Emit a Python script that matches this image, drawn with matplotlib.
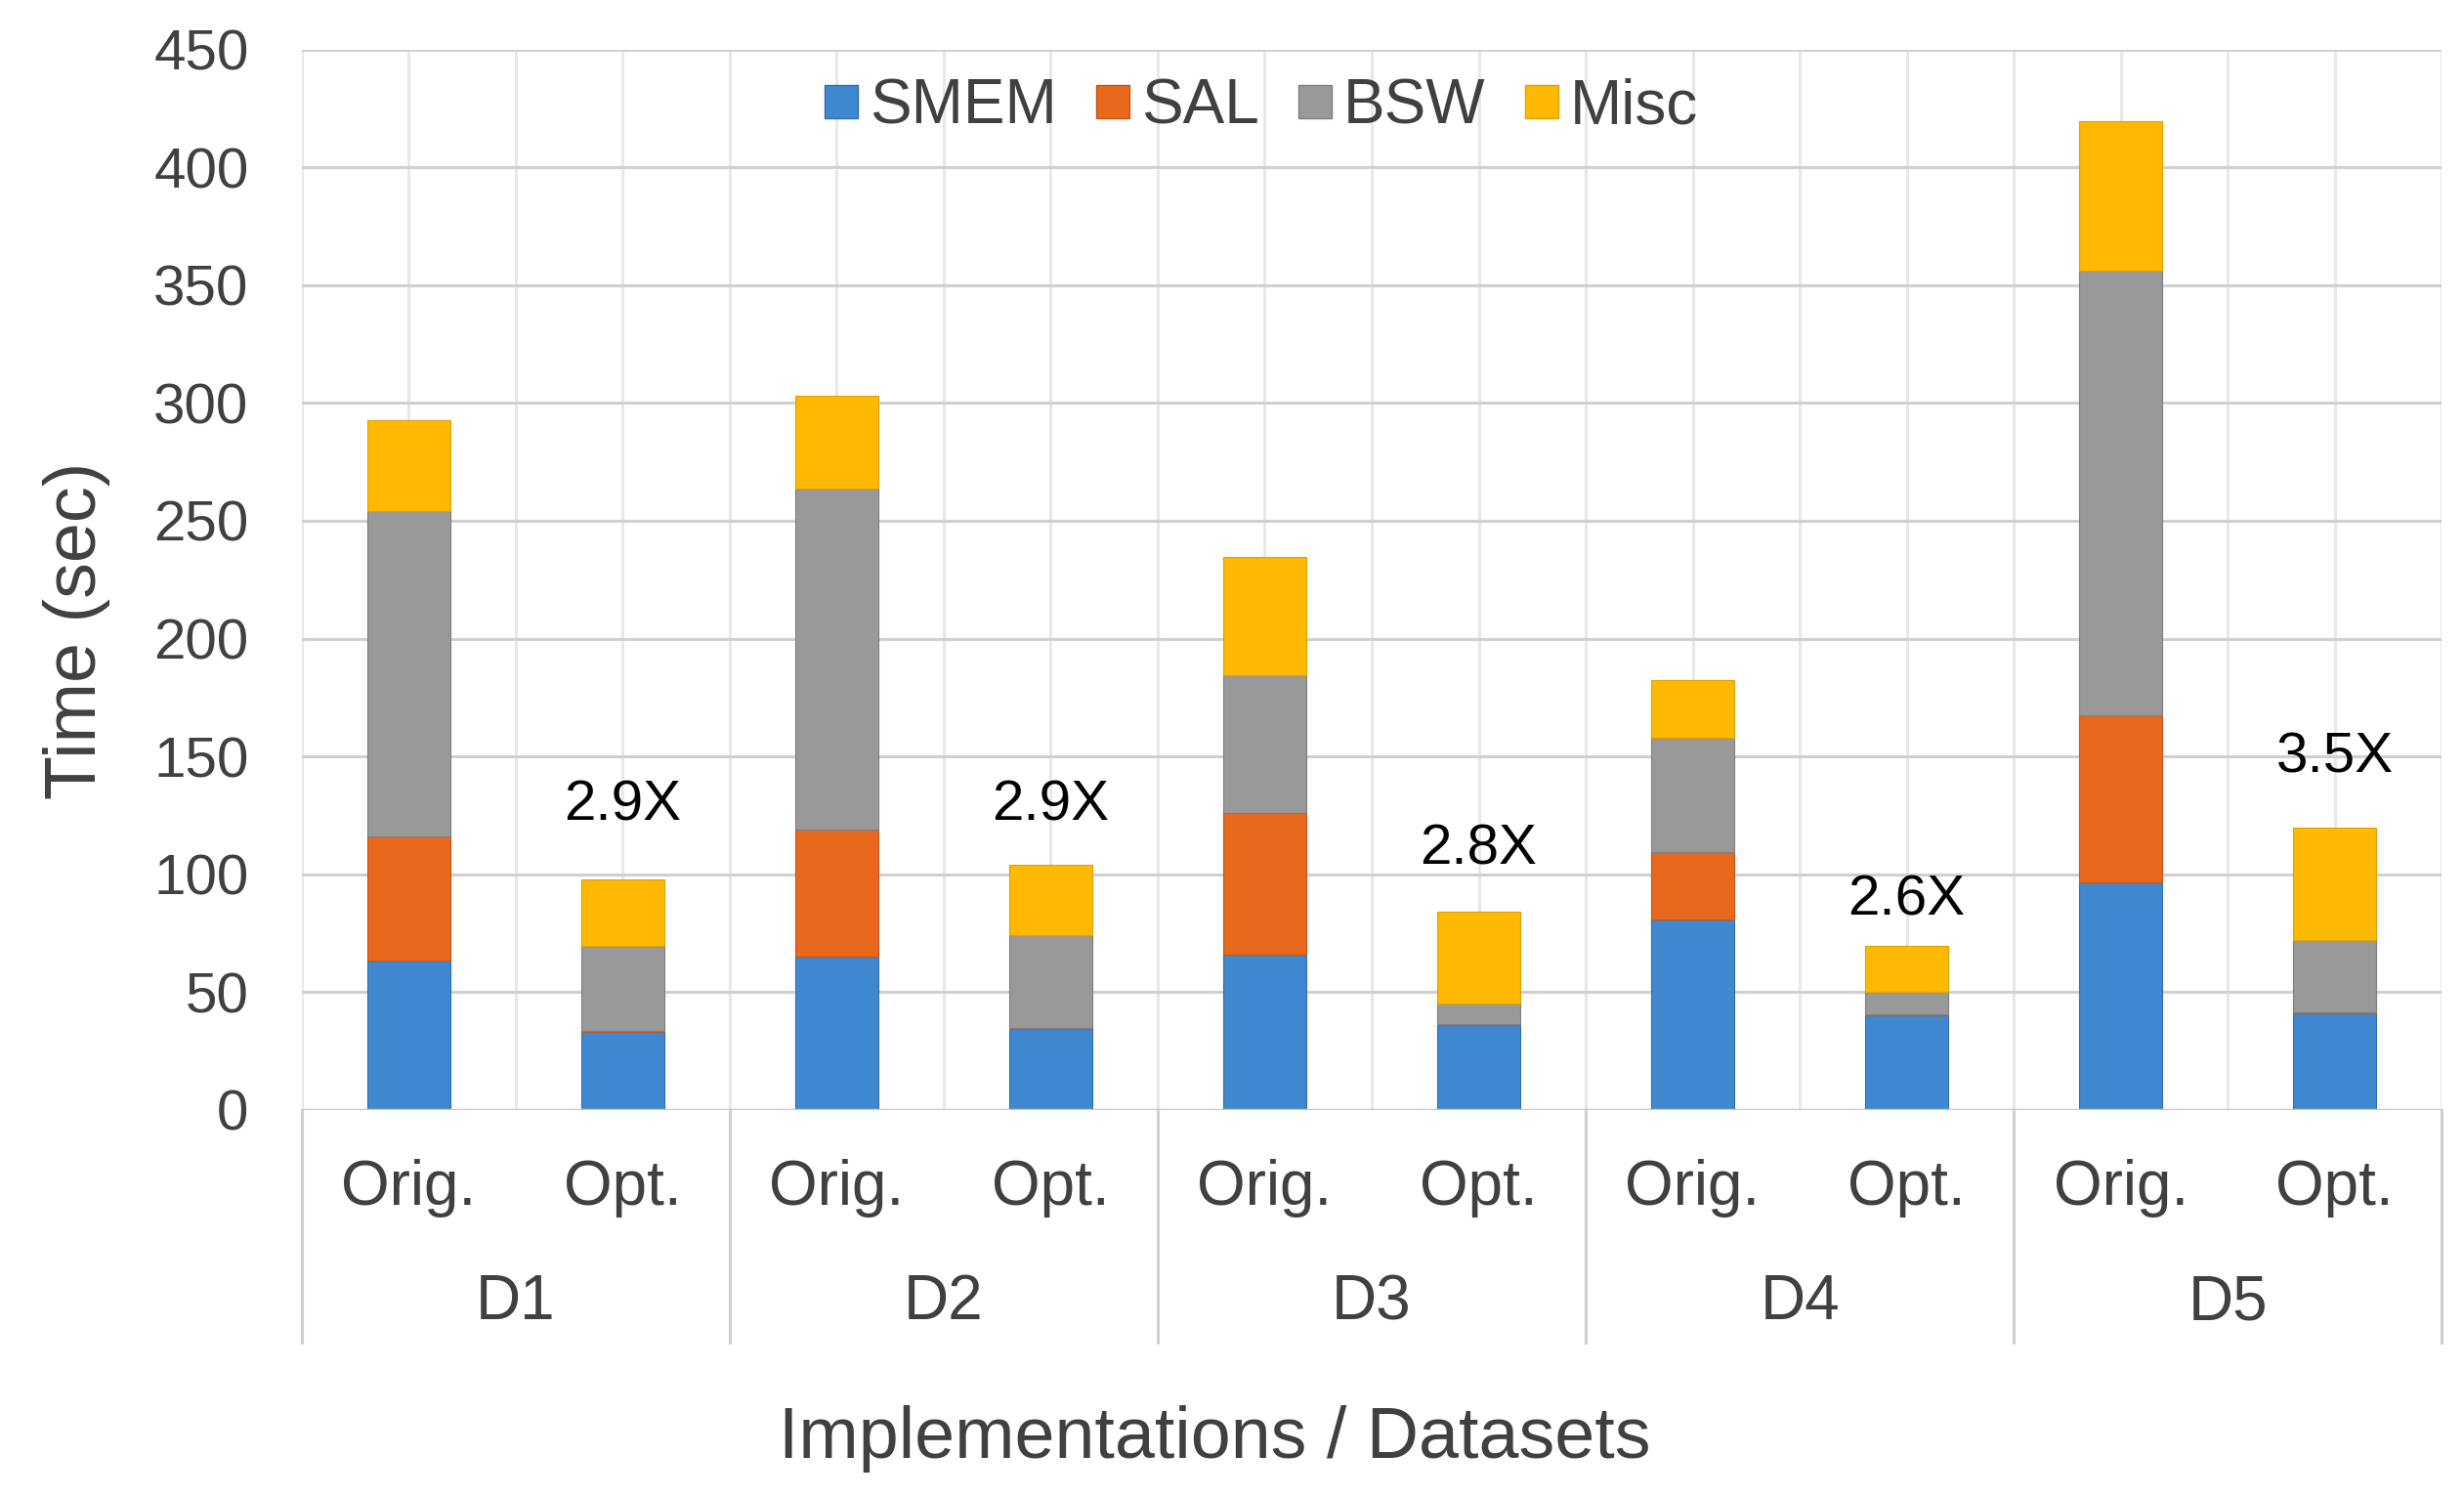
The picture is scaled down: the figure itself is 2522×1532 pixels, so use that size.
import numpy as np
import matplotlib.pyplot as plt
import matplotlib.transforms as mtransforms
from matplotlib.lines import Line2D

plt.rcParams['font.family'] = ['Liberation Sans', 'DejaVu Sans']

datasets = ['D1', 'D2', 'D3', 'D4', 'D5']
impls = ['Orig.', 'Opt.']
parts = ['SMEM', 'SAL', 'BSW', 'Misc']
colors = ['#3F88CF', '#E8691B', '#999999', '#FFB900']
edges = ['#2F6FAE', '#C5561A', '#7F7F7F', '#E0A200']

# bars in order D1 Orig, D1 Opt, D2 Orig, ...
smem = [63.5, 33.0, 65.0, 34.5, 66.0, 36.0, 81.0, 40.0, 96.6, 41.0]
sal  = [52.5, 0.5, 54.0, 0.5, 60.0, 0.5, 28.5, 0.5, 71.0, 0.5]
bsw  = [138.0, 36.1, 144.5, 39.0, 58.5, 8.5, 48.5, 9.5, 188.4, 30.5]
misc = [38.6, 28.4, 39.5, 30.0, 50.0, 39.0, 24.5, 19.6, 63.6, 48.0]
speedup = ['2.9X', '2.9X', '2.8X', '2.6X', '3.5X']
# hand-placed label heights (in sec), as in the original chart
speedup_y = [129, 129, 110.5, 89, 149.5]

fig = plt.figure(figsize=(25.22, 15.32), dpi=100)
ax = fig.add_axes([0.1224, 0.2585, 0.8686, 0.7085])

x = np.arange(len(smem))
bottom = np.zeros(len(smem))
for vals, c, e in zip([smem, sal, bsw, misc], colors, edges):
    ax.bar(x, vals, 0.39, bottom=bottom, color=c, edgecolor=e, linewidth=0.8, zorder=3)
    bottom += np.array(vals)

# speedup labels over Opt. bars
for i, (s, yv) in enumerate(zip(speedup, speedup_y)):
    ax.text(2 * i + 1, yv, s, ha='center', va='center', fontsize=42, color='black')

ax.set_xlim(-0.5, 9.5)
ax.set_ylim(0, 450)
ax.set_yticks(np.arange(0, 451, 50))
ax.tick_params(axis='y', length=0, pad=39, labelsize=42, labelcolor='#404040')
ax.set_xticks([])
for sp in ax.spines.values():
    sp.set_visible(False)

# grid
for yv in np.arange(50, 451, 50):
    ax.axhline(yv, color='#D0D0D0', lw=2.2, zorder=1)
for xv in np.arange(-0.5, 9.6, 0.5):
    ax.axvline(xv, color='#E8E8E8', lw=2.2, zorder=0.5)
ax.axhline(0, color='#C8C8C8', lw=2.5, zorder=4)

# category axis below
trans = mtransforms.blended_transform_factory(ax.transData, ax.transAxes)
for i in x:
    ax.text(i, -0.0736, impls[i % 2], transform=trans, ha='center', va='center',
            fontsize=46, color='#404040')
for j, d in enumerate(datasets):
    ax.text(2 * j + 0.5, -0.1817, d, transform=trans, ha='center', va='center',
            fontsize=46, color='#404040')
for xv in np.arange(-0.5, 9.6, 2):
    ax.plot([xv, xv], [0, -0.219], transform=trans, color='#D0D0D0', lw=2.2, clip_on=False)

fig.text(0.493, 0.039, 'Implementations / Datasets', ha='center', va='center',
         fontsize=53, color='#404040')
fig.text(0.031, 0.579, 'Time (sec)', ha='center', va='center', rotation=90,
         fontsize=53, color='#404040')

handles = [Line2D([], [], ls='none', marker='s', markersize=24, markerfacecolor=c,
                  markeredgecolor=e, markeredgewidth=1) for c, e in zip(colors, edges)]
leg = ax.legend(handles, parts, loc='center', bbox_to_anchor=(0.448, 0.946), ncol=4,
                frameon=False, fontsize=46, handlelength=0.6, handletextpad=0.15,
                columnspacing=0.6, borderpad=0)
for t in leg.get_texts():
    t.set_color('#404040')

fig.savefig('out.png', dpi=100)
